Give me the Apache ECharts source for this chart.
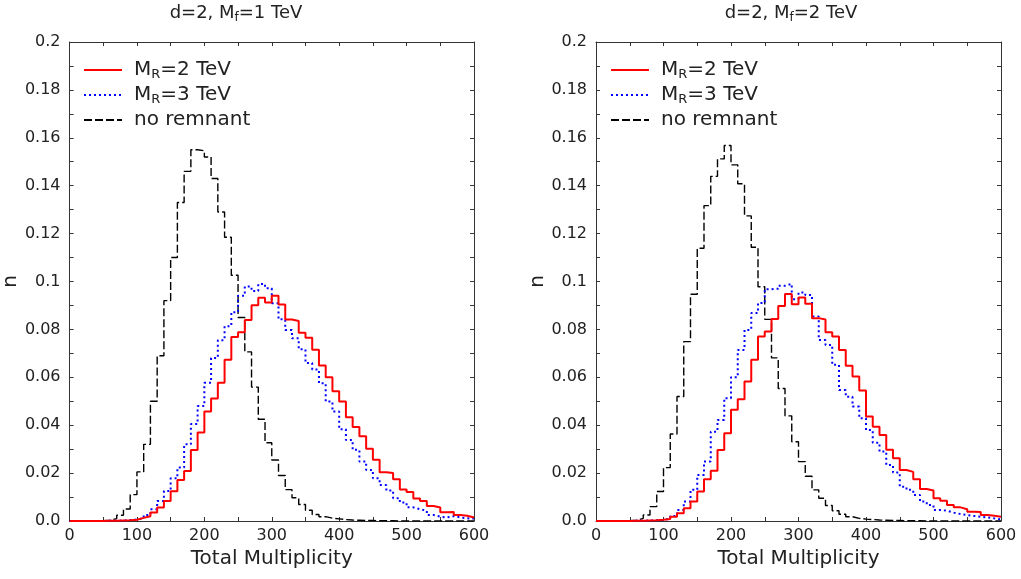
<!DOCTYPE html>
<html><head><meta charset="utf-8">
<script src="https://cdn.jsdelivr.net/npm/echarts@6/dist/echarts.min.js"></script>
<style>html,body{margin:0;padding:0;background:#fff}#c{width:1021px;height:579px}</style>
</head><body><div id="c"></div>
<script>
// ---- data ----
const binEdges = [0,10,20,30,40,50,60,70,80,90,100,110,120,130,140,150,160,170,180,190,200,210,220,230,240,250,260,270,280,290,300,310,320,330,340,350,360,370,380,390,400,410,420,430,440,450,460,470,480,490,500,510,520,530,540,550,560,570,580,590,600];
const xTickLabels = ['0','100','200','300','400','500','600'];
const yTickLabels = ['0.0','0.02','0.04','0.06','0.08','0.1','0.12','0.14','0.16','0.18','0.2'];
const panelTitles = ['d=2, M_f=1 TeV','d=2, M_f=2 TeV'];
const seriesNames = ['M_R=2 TeV','M_R=3 TeV','no remnant'];

// panel 1 (M_f = 1 TeV)
const red1 = [0,0,0,0,0,0.0001,0.0001,0.0002,0.0003,0.0005,0.0013,0.002,0.0035,0.0056,0.0084,0.0124,0.0171,0.0209,0.0296,0.0369,0.0457,0.0511,0.0577,0.0673,0.0768,0.0788,0.0839,0.0901,0.0932,0.0912,0.0941,0.0904,0.0841,0.0835,0.0786,0.0765,0.0715,0.0649,0.0600,0.0542,0.0499,0.0433,0.0392,0.0354,0.0302,0.0256,0.0204,0.0200,0.0174,0.0132,0.0121,0.0094,0.0084,0.0063,0.0056,0.0037,0.0038,0.0025,0.0022,0.0015];
const blue1 = [0,0,0,0,0,0.0001,0.0001,0.0002,0.0004,0.0006,0.0012,0.0025,0.0049,0.0084,0.0125,0.0178,0.0223,0.032,0.0405,0.048,0.0577,0.0681,0.0755,0.0813,0.0872,0.094,0.0979,0.096,0.099,0.0972,0.0909,0.0842,0.0798,0.0763,0.0717,0.066,0.0633,0.0575,0.0499,0.0457,0.0383,0.0338,0.0297,0.0248,0.0213,0.0178,0.015,0.0127,0.0095,0.0077,0.0057,0.0049,0.0043,0.0025,0.0018,0.0015,0.002,0.0015,0.0011,0.001];
const black1 = [0,0,0,0,0.0001,0.0003,0.001,0.0024,0.005,0.011,0.0205,0.032,0.050,0.069,0.092,0.110,0.133,0.146,0.155,0.1546,0.152,0.143,0.129,0.1185,0.1026,0.085,0.0706,0.0559,0.0425,0.0327,0.0255,0.019,0.0131,0.0097,0.0069,0.0045,0.0027,0.0018,0.0012,0.0009,0.0006,0.0004,0.0003,0.0002,0.0002,0.0001,0.0001,0.0001,0,0,0,0,0,0,0,0,0,0,0,0];

// panel 2 (M_f = 2 TeV)
const red2 = [0,0,0,0,0,0.0001,0.0001,0.0002,0.0003,0.0005,0.0008,0.0018,0.0032,0.0053,0.0081,0.0123,0.0174,0.021,0.0296,0.0366,0.0464,0.0508,0.0582,0.0673,0.077,0.0791,0.0843,0.0898,0.0948,0.0905,0.0933,0.0907,0.0847,0.0841,0.0788,0.077,0.0714,0.0648,0.0603,0.0545,0.0436,0.0394,0.0359,0.0297,0.0262,0.0213,0.0205,0.0174,0.0134,0.0127,0.0095,0.0085,0.0067,0.0057,0.0049,0.0039,0.0038,0.0025,0.0022,0.0018];
const blue2 = [0,0,0,0,0,0.0001,0.0001,0.0002,0.0003,0.0004,0.0011,0.0021,0.0046,0.0081,0.013,0.0192,0.0248,0.0373,0.0422,0.0513,0.06,0.0714,0.0798,0.0868,0.091,0.0968,0.097,0.0982,0.099,0.0926,0.0954,0.0944,0.0854,0.0756,0.0735,0.0652,0.0547,0.0519,0.0478,0.0429,0.038,0.0327,0.029,0.0234,0.0202,0.0143,0.013,0.0109,0.0081,0.0067,0.0046,0.0043,0.0035,0.0029,0.0025,0.0021,0.0018,0.0015,0.0011,0.0007];
const black2 = [0,0,0,0,0.0001,0.0003,0.0011,0.0025,0.006,0.0123,0.0223,0.0363,0.052,0.0749,0.0947,0.1139,0.1317,0.1439,0.1512,0.1568,0.1487,0.1408,0.1274,0.1143,0.0978,0.0842,0.0681,0.0553,0.0439,0.0331,0.0248,0.0187,0.013,0.0095,0.0065,0.0043,0.0028,0.0018,0.0011,0.0008,0.0006,0.0004,0.0003,0.0002,0.0002,0.0001,0.0001,0.0001,0,0,0,0,0,0,0,0,0,0,0,0];

// ---- chart ----
const FONT = 'DejaVu Sans';
const TXT = '#222';
const AX = '#333';
const grids = [
  {left: 69, top: 42, width: 405, height: 479},
  {left: 596, top: 42, width: 405, height: 479}
];

function hist(vals) {
  const d = [];
  for (let i = 0; i < vals.length; i++) d.push([binEdges[i], vals[i]]);
  d.push([binEdges[vals.length], vals[vals.length - 1]]);
  return d;
}
function richName(s, big, small, lead) {
  const pre = lead ? '{g|}' : '';
  if (s.indexOf('_') < 0) return pre + '{' + big + '|' + s + '}';
  return pre + s.replace(/^(.*?)_(\w)(.*)$/, function(m, a, b, c) {
    return '{' + big + '|' + a + '}{' + small + '|' + b + '}{' + big + '|' + c + '}';
  });
}

const tickStyle = {show: true, inside: true, length: 4, lineStyle: {color: AX, width: 1}};
const minorStyle = {show: true, splitNumber: 2, length: 4, lineStyle: {color: AX, width: 1}};
const axisLine = {show: true, onZero: false, lineStyle: {color: AX, width: 1}};

const xAxis = [], yAxis = [], series = [], legend = [], title = [];
const titleX = [236, 791];
const legendX = [83, 610];
const panels = [[red1, blue1, black1], [red2, blue2, black2]];

for (let g = 0; g < 2; g++) {
  xAxis.push({
    type: 'value', gridIndex: g, min: 0, max: 600, interval: 100, position: 'bottom',
    axisLine: axisLine, axisTick: tickStyle, minorTick: minorStyle, splitLine: {show: false},
    axisLabel: {fontFamily: FONT, fontSize: 16, color: TXT, margin: 7, showMinLabel: true, showMaxLabel: true,
      formatter: v => xTickLabels[Math.round(v / 100)]},
    name: 'Total Multiplicity', nameLocation: 'middle', nameGap: 27,
    nameTextStyle: {fontFamily: FONT, fontSize: 20, color: TXT}
  });
  xAxis.push({
    type: 'value', gridIndex: g, min: 0, max: 600, interval: 100, position: 'top',
    axisLine: axisLine, axisTick: tickStyle, minorTick: minorStyle, splitLine: {show: false},
    axisLabel: {show: false}
  });
  yAxis.push({
    type: 'value', gridIndex: g, min: 0, max: 0.2, interval: 0.02, position: 'left',
    axisLine: axisLine, axisTick: tickStyle, minorTick: minorStyle, splitLine: {show: false},
    axisLabel: {fontFamily: FONT, fontSize: 16, color: TXT, margin: 9, showMinLabel: true, showMaxLabel: true,
      formatter: v => yTickLabels[Math.round(v / 0.02)]},
    name: 'n', nameLocation: 'middle', nameGap: 48,
    nameTextStyle: {fontFamily: FONT, fontSize: 20, color: TXT}
  });
  yAxis.push({
    type: 'value', gridIndex: g, min: 0, max: 0.2, interval: 0.02, position: 'right',
    axisLine: axisLine, axisTick: tickStyle, minorTick: minorStyle, splitLine: {show: false},
    axisLabel: {show: false}
  });
  const [r, b, k] = panels[g];
  const styles = [
    {color: '#ff0000', width: 2, type: 'solid'},
    {color: '#0000ff', width: 2, type: [2, 3]},
    {color: '#000000', width: 1.4, type: [8, 3]}
  ];
  [r, b, k].forEach((vals, i) => {
    series.push({
      type: 'line', name: seriesNames[i], xAxisIndex: 2 * g, yAxisIndex: 2 * g,
      step: 'end', symbol: 'none', showSymbol: false, silent: true,
      data: hist(vals), lineStyle: styles[i], itemStyle: {color: styles[i].color},
      z: 3 - i
    });
  });
  legend.push({
    left: legendX[g], top: 60, orient: 'vertical', padding: 0, itemGap: 4,
    itemWidth: 38, itemHeight: 14, selectedMode: false,
    itemStyle: {opacity: 0, borderWidth: 0},
    data: seriesNames,
    formatter: name => richName(name, 't', 's', true),
    textStyle: {
      fontFamily: FONT, color: TXT, fontSize: 20,
      rich: {
        g: {width: 7, lineHeight: 22},
        t: {fontFamily: FONT, fontSize: 20, color: TXT, lineHeight: 22, fontWeight: 'normal'},
        s: {fontFamily: FONT, fontSize: 13, color: TXT, lineHeight: 12, verticalAlign: 'bottom', fontWeight: 'normal'}
      }
    }
  });
  title.push({
    text: richName(panelTitles[g], 'a', 's'), left: titleX[g], top: 2, textAlign: 'center', padding: 0,
    textStyle: {
      fontFamily: FONT, fontWeight: 'normal', fontSize: 18, color: TXT,
      rich: {
        a: {fontFamily: FONT, fontSize: 18, color: TXT, lineHeight: 22, fontWeight: 'normal'},
        s: {fontFamily: FONT, fontSize: 12, color: TXT, lineHeight: 11, verticalAlign: 'bottom', fontWeight: 'normal'}
      }
    }
  });
}

const chart = echarts.init(document.getElementById('c'), null, {renderer: 'canvas'});
chart.setOption({
  animation: false,
  backgroundColor: '#fff',
  title: title,
  legend: legend,
  grid: grids,
  xAxis: xAxis,
  yAxis: yAxis,
  series: series
});
</script>
</body></html>
